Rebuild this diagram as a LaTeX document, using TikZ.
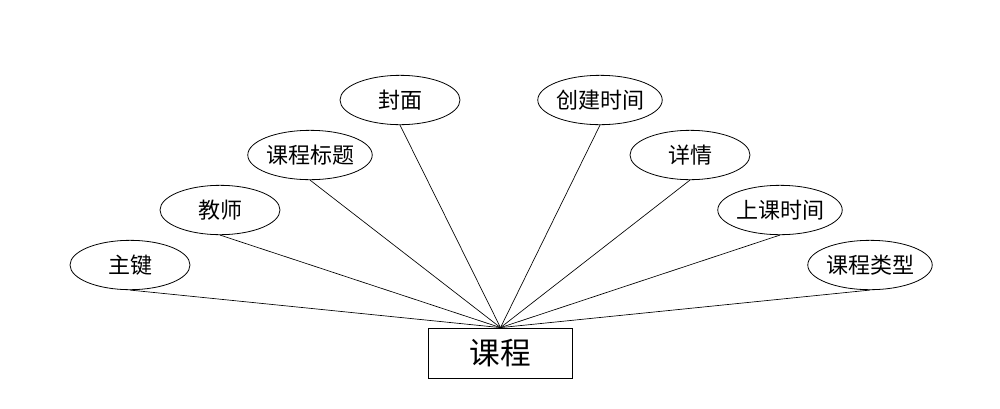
\documentclass[tikz,border=0pt]{standalone}
\usepackage{fontspec}
\setmainfont{Noto Sans CJK SC}
\usetikzlibrary{shapes.geometric}
\begin{document}
\begin{tikzpicture}[x=0.75pt,y=-0.75pt,
  attr/.style={draw,ellipse,line width=0.6pt,minimum width=90pt,minimum height=37pt,inner sep=0pt,font=\fontsize{16.5pt}{18pt}\selectfont},
  ent/.style={draw,rectangle,line width=0.6pt,minimum width=108pt,minimum height=37.5pt,inner sep=0pt,font=\fontsize{23pt}{26pt}\selectfont},
  conn/.style={line width=0.5pt}]
\useasboundingbox (0,0) rectangle (1000,408);
\node[ent] (course) at (500.5,353) {课程};
\node[attr] (a1) at (130,265) {主键};
\node[attr] (a2) at (220,210) {教师};
\node[attr] (a3) at (310,155) {课程标题};
\node[attr] (a4) at (400,100) {封面};
\node[attr] (a5) at (600,100) {创建时间};
\node[attr] (a6) at (690,155) {详情};
\node[attr] (a7) at (780,210) {上课时间};
\node[attr] (a8) at (870,265) {课程类型};
\foreach \n in {a1,a2,a3,a4,a5,a6,a7,a8}
  \draw[conn] (\n.south) -- (course.north);
\end{tikzpicture}
\end{document}
